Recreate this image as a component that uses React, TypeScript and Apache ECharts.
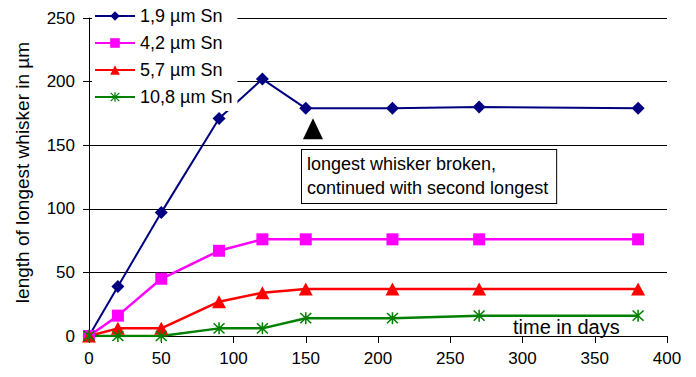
import React, { useEffect, useRef } from "react";
import * as echarts from "echarts";

const days = [0, 20, 50, 90, 120, 150, 210, 270, 380];
const s19 = [0, 39, 97, 171, 202, 179, 179, 180, 179];
const s42 = [0, 16, 45, 67, 76, 76, 76, 76, 76];
const s57 = [0, 6, 6, 27, 34, 37, 37, 37, 37];
const s108 = [0, 0, 0, 6, 6, 14, 14, 16, 16];
const seriesNames = ["1,9 µm Sn", "4,2 µm Sn", "5,7 µm Sn", "10,8 µm Sn"];
const xTicks = { min: 0, max: 400, interval: 50 };
const yTicks = { min: 0, max: 250, interval: 50 };
const brokenPoint = [155, 163];
const noteText = "longest whisker broken,\ncontinued with second longest";

const FONT = "'Liberation Sans', Arial, sans-serif";

const starPath =
  "path://M-0.12,-1 L0.12,-1 L0.12,1 L-0.12,1 Z " +
  "M-0.765,-0.935 L0.935,0.765 L0.765,0.935 L-0.935,-0.765 Z " +
  "M-0.935,0.765 L0.765,-0.935 L0.935,-0.765 L-0.765,0.935 Z";

function pairs(vals: number[]) {
  return days.map((d, i) => [d, vals[i]]);
}

export default function App() {
  const ref = useRef<HTMLDivElement>(null);
  useEffect(() => {
    if (!ref.current) return;
    const chart = echarts.init(ref.current, undefined, { renderer: "svg" });
    chart.setOption({
      animation: false,
      backgroundColor: "#fff",
      grid: { left: 89, right: 29, top: 18, bottom: 41 },
      xAxis: {
        type: "value",
        min: xTicks.min,
        max: xTicks.max,
        interval: xTicks.interval,
        axisLine: { show: true, lineStyle: { color: "#000", width: 1 } },
        axisTick: { show: true, length: 7, lineStyle: { color: "#000" } },
        axisLabel: { color: "#000", fontSize: 17, fontFamily: FONT, margin: 14 },
        splitLine: { show: false },
      },
      yAxis: {
        type: "value",
        min: yTicks.min,
        max: yTicks.max,
        interval: yTicks.interval,
        name: "length of longest whisker in µm",
        nameLocation: "middle",
        nameGap: 57,
        nameTextStyle: { color: "#000", fontSize: 19, fontFamily: FONT, padding: [0, 0, 0, 9] },
        axisLine: { show: true, lineStyle: { color: "#000", width: 1 } },
        axisTick: { show: true, length: 6, lineStyle: { color: "#000" } },
        axisLabel: { color: "#000", fontSize: 17, fontFamily: FONT, margin: 14 },
        splitLine: { show: true, lineStyle: { color: "#000", width: 1 } },
      },
      legend: {
        orient: "vertical",
        left: 92,
        top: 2,
        padding: [5, 5, 5, 2],
        itemWidth: 40,
        itemHeight: 12,
        itemGap: 9,
        backgroundColor: "#fff",
        textStyle: { color: "#000", fontSize: 18, fontFamily: FONT },
        data: seriesNames,
      },
      series: [
        {
          name: seriesNames[0],
          type: "line",
          data: pairs(s19),
          symbol: "diamond",
          symbolSize: 13,
          lineStyle: { color: "#000080", width: 2 },
          itemStyle: { color: "#000080" },
          markPoint: {
            symbol: "triangle",
            symbolSize: [20, 21],
            itemStyle: { color: "#000" },
            label: { show: false },
            data: [{ coord: brokenPoint }],
          },
        },
        {
          name: seriesNames[1],
          type: "line",
          data: pairs(s42),
          symbol: "rect",
          symbolSize: 12,
          lineStyle: { color: "#FF00FF", width: 2.5 },
          itemStyle: { color: "#FF00FF" },
        },
        {
          name: seriesNames[2],
          type: "line",
          data: pairs(s57),
          symbol: "triangle",
          symbolSize: [14, 13],
          lineStyle: { color: "#FF0000", width: 2.5 },
          itemStyle: { color: "#FF0000" },
        },
        {
          name: seriesNames[3],
          type: "line",
          data: pairs(s108),
          symbol: starPath,
          symbolSize: 12,
          lineStyle: { color: "#008000", width: 2.5 },
          itemStyle: { color: "#008000" },
        },
      ],
      graphic: [
        {
          type: "text",
          left: 301,
          top: 149,
          z: 10,
          style: {
            text: noteText,
            fontSize: 18,
            fontFamily: FONT,
            fill: "#000",
            lineHeight: 24,
            backgroundColor: "#fff",
            borderColor: "#000",
            borderWidth: 1,
            padding: [2, 8, 3, 5],
          },
        },
        {
          type: "text",
          left: 513,
          top: 317,
          z: 10,
          style: {
            text: "time in days",
            fontSize: 20,
            fontFamily: FONT,
            fill: "#000",
          },
        },
      ],
    });
    return () => chart.dispose();
  }, []);
  return <div ref={ref} style={{ width: 696, height: 377, position: "absolute", left: 0, top: 0 }} />;
}
